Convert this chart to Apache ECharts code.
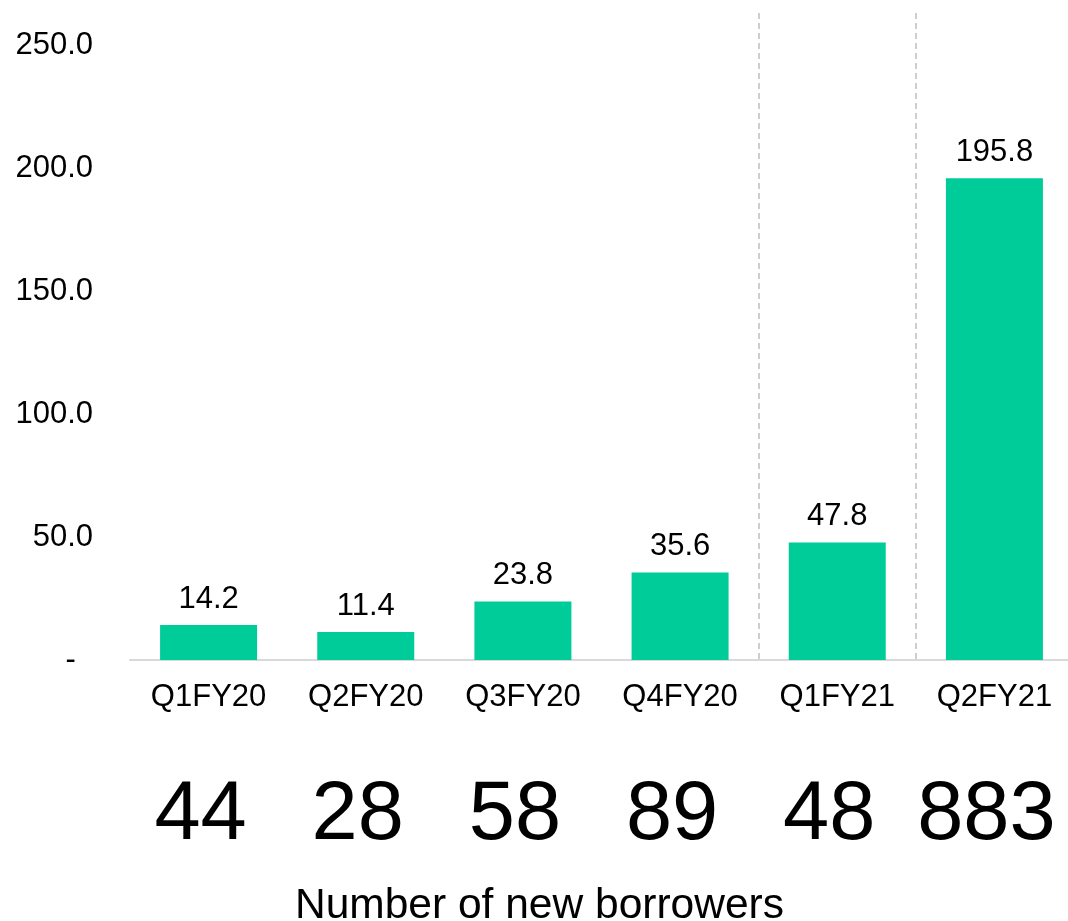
<!DOCTYPE html>
<html>
<head>
<meta charset="utf-8">
<script src="https://cdn.jsdelivr.net/npm/echarts@6/dist/echarts.min.js"></script>
<style>
  html, body { margin: 0; padding: 0; background: #fff; overflow: hidden; }
  #chart { width: 1074px; height: 921px; }
</style>
</head>
<body>
<div id="chart"></div>
<script>
// Quarterly disbursements with the count of new borrowers per quarter
const quarters = ['Q1FY20', 'Q2FY20', 'Q3FY20', 'Q4FY20', 'Q1FY21', 'Q2FY21'];
const amounts = [14.2, 11.4, 23.8, 35.6, 47.8, 195.8];
const newBorrowers = [44, 28, 58, 89, 48, 883];
const yTicks = [0, 50, 100, 150, 200, 250];
const footerTitle = 'Number of new borrowers';

const FONT = 'Liberation Sans, Arial, sans-serif';
const chart = echarts.init(document.getElementById('chart'), null, { renderer: 'canvas' });

chart.setOption({
  animation: false,
  backgroundColor: '#ffffff',
  title: {
    text: footerTitle,
    left: 290,
    top: 880,
    textStyle: { fontFamily: FONT, fontSize: 42.5, fontWeight: 'normal', color: '#000' }
  },
  grid: { left: 130, top: 13, right: 1, bottom: 261, containLabel: false },
  xAxis: [
    {
      type: 'category',
      data: quarters,
      axisLine: { lineStyle: { color: '#d9d9d9', width: 2 } },
      axisTick: { show: false },
      axisLabel: { fontFamily: FONT, fontSize: 31, color: '#000', margin: 22, interval: 0 },
      // dashed dividers before the FY21 quarters
      splitLine: {
        show: true,
        interval: function (index) { return index === 4 || index === 5; },
        lineStyle: { color: '#bfbfbf', type: [6, 4], width: 1.5 }
      }
    },
    {
      type: 'category',
      data: newBorrowers.map(String),
      position: 'bottom',
      axisLine: { show: false },
      axisTick: { show: false },
      splitLine: { show: false },
      axisLabel: {
        fontFamily: FONT, fontSize: 83, color: '#000', margin: 115, interval: 0,
        padding: [0, 16, 0, 0]
      }
    }
  ],
  yAxis: {
    type: 'value',
    min: 0,
    max: 263,
    interval: 50,
    axisLine: { show: false },
    axisTick: { show: false },
    splitLine: { show: false },
    axisLabel: {
      fontFamily: FONT, fontSize: 31, color: '#000', margin: 37,
      formatter: function (v) {
        if (yTicks.indexOf(v) < 0) return '';
        return v === 0 ? '-  ' : v.toFixed(1);
      }
    }
  },
  series: [{
    type: 'bar',
    data: amounts,
    barWidth: 97,
    itemStyle: { color: '#00cc99' },
    label: {
      show: true,
      position: 'top',
      distance: 10,
      fontFamily: FONT,
      fontSize: 31,
      color: '#000',
      formatter: function (p) { return p.value.toFixed(1); }
    }
  }]
});
</script>
</body>
</html>
